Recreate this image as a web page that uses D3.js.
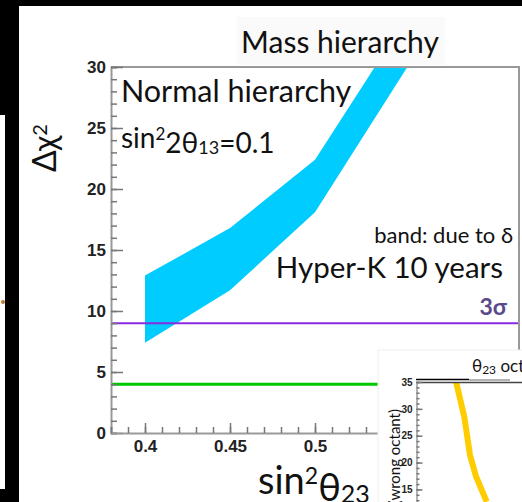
<!DOCTYPE html>
<html>
<head>
<meta charset="utf-8">
<script src="https://cdn.jsdelivr.net/npm/d3@7"></script>
<style>
  html, body { margin: 0; padding: 0; background: #fff; }
  svg { display: block; }
  .tick text { font-family: "Liberation Sans", Arial, sans-serif; font-weight: bold; fill: #222; }
  .lbl { font-family: Lato, "Open Sans", sans-serif; fill: #111; }
</style>
</head>
<body>
<svg id="chart" width="522" height="502"></svg>
<script>
// ---- data ----
const sin2Theta23 = [0.4, 0.45, 0.5, 0.6];
const bandUpper   = [12.9, 16.8, 22.4, 44];   // Δχ² upper edge of δ band
const bandLower   = [7.4, 11.7, 18.1, 40];    // Δχ² lower edge of δ band
const sigmaLevels = [
  { name: "3σ", value: 9, color: "#8a2be2", width: 2 },
  { name: "2σ", value: 4, color: "#00c800", width: 3 }
];
const xMajorTicks = [0.4, 0.45, 0.5];
const yMajorTicks = [0, 5, 10, 15, 20, 25, 30];

// inset: θ23 octant sensitivity
const octX   = [0.4257, 0.4352, 0.4417, 0.4486, 0.4608];
const octChi = [35.1, 28.5, 21.4, 17.4, 12.7];
const octYTicks = [15, 20, 25, 30, 35];

const svg = d3.select("#chart");

// ---- page frame around the figure ----
svg.append("rect").attr("x", 0).attr("y", 0).attr("width", 522).attr("height", 6).attr("fill", "#000");
svg.append("rect").attr("x", 0).attr("y", 0).attr("width", 19).attr("height", 502).attr("fill", "#000");
svg.append("rect").attr("x", 0).attr("y", 115).attr("width", 5).attr("height", 374).attr("fill", "#fff");
svg.append("circle").attr("cx", 3).attr("cy", 302).attr("r", 2).attr("fill", "#c07a30");

// ---- main panel ----
const x = d3.scaleLinear().domain([0.38, 0.62]).range([111, 519]);
const y = d3.scaleLinear().domain([0, 30]).range([433, 67]);

svg.append("defs").append("clipPath").attr("id", "plotClip")
  .append("rect").attr("x", x(0.38)).attr("y", y(30))
  .attr("width", x(0.62) - x(0.38)).attr("height", y(0) - y(30));

// title
svg.append("rect").attr("x", 237).attr("y", 17).attr("width", 208).attr("height", 48).attr("fill", "#fafafa");
svg.append("text").attr("class", "lbl").attr("x", 340).attr("y", 53)
  .attr("text-anchor", "middle").style("font-size", "30px").text("Mass hierarchy");

const plot = svg.append("g").attr("clip-path", "url(#plotClip)");

// δ band
const band = d3.area()
  .x((d, i) => x(sin2Theta23[i]))
  .y0((d, i) => y(bandLower[i]))
  .y1((d, i) => y(bandUpper[i]));
plot.append("path").datum(sin2Theta23).attr("d", band).attr("fill", "#00ccff");

// σ reference lines
plot.selectAll("line.sigma").data(sigmaLevels).join("line")
  .attr("class", "sigma")
  .attr("x1", x(0.38)).attr("x2", x(0.62))
  .attr("y1", d => y(d.value)).attr("y2", d => y(d.value))
  .attr("stroke", d => d.color).attr("stroke-width", d => d.width);

// frame (top and right)
svg.append("path")
  .attr("d", `M${x(0.38)},${y(30)}H${x(0.62)}V${y(0)}`)
  .attr("fill", "none").attr("stroke", "#999").attr("stroke-width", 2);

// axes with inward ticks
const yMinor = d3.axisLeft(y).tickValues(d3.range(0, 31, 1)).tickSize(-6).tickFormat("");
const yMajor = d3.axisLeft(y).tickValues(yMajorTicks).tickSize(-12).tickPadding(5).tickFormat(d3.format("d"));
const xMinor = d3.axisBottom(x).tickValues(d3.range(38, 63, 1).map(v => v / 100)).tickSize(-6).tickFormat("");
const xMajor = d3.axisBottom(x).tickValues(xMajorTicks).tickSize(-10).tickPadding(7).tickFormat(d => String(d));

function styleAxis(g, fs) {
  g.select(".domain").attr("stroke", "#999").attr("stroke-width", 2);
  g.selectAll(".tick line").attr("stroke", "#777").attr("stroke-width", 1.5);
  g.selectAll(".tick text").style("font-size", fs);
}
svg.append("g").attr("transform", `translate(${x(0.38)},0)`).call(yMinor).call(g => styleAxis(g, "17px"));
svg.append("g").attr("transform", `translate(${x(0.38)},0)`).call(yMajor).call(g => styleAxis(g, "17px"))
  .call(g => g.select(".domain").remove());
svg.append("g").attr("transform", `translate(0,${y(0)})`).call(xMinor).call(g => styleAxis(g, "17px"));
svg.append("g").attr("transform", `translate(0,${y(0)})`).call(xMajor).call(g => styleAxis(g, "17px"))
  .call(g => g.select(".domain").remove());

// axis titles
const yt = svg.append("text").attr("class", "lbl")
  .attr("transform", "translate(56,148) rotate(-90)")
  .attr("text-anchor", "middle").style("font-size", "32px");
yt.append("tspan").text("Δχ");
yt.append("tspan").attr("dy", "-0.45em").style("font-size", "20px").text("2");

const xt = svg.append("text").attr("class", "lbl").attr("x", 258).attr("y", 494).style("font-size", "38px");
xt.append("tspan").text("sin");
xt.append("tspan").attr("dy", "-0.45em").style("font-size", "23px").text("2");
xt.append("tspan").attr("dy", "0.45em").text("θ");
xt.append("tspan").attr("dy", "2").style("font-size", "25px").text("23");

// annotations
svg.append("text").attr("class", "lbl").attr("x", 121).attr("y", 102).style("font-size", "30.5px").text("Normal hierarchy");
const s13 = svg.append("text").attr("class", "lbl").attr("x", 121).attr("y", 148).style("font-size", "28px");
s13.append("tspan").text("sin");
s13.append("tspan").attr("dy", "-0.45em").style("font-size", "17px").text("2");
s13.append("tspan").attr("dy", "0.45em").text("2θ");
s13.append("tspan").attr("dy", "1").style("font-size", "18px").text("13");
s13.append("tspan").attr("dy", "-1").text("=0.1");

svg.append("text").attr("class", "lbl").attr("x", 513).attr("y", 243)
  .attr("text-anchor", "end").style("font-size", "22px").text("band: due to δ");
svg.append("text").attr("class", "lbl").attr("x", 503).attr("y", 278)
  .attr("text-anchor", "end").style("font-size", "29.5px").text("Hyper-K 10 years");
svg.append("text").attr("class", "lbl").attr("x", 507).attr("y", 315)
  .attr("text-anchor", "end").style("font-size", "23px").style("font-weight", "bold")
  .style("fill", "#5a4a8c").text(sigmaLevels[0].name);

// ---- inset panel: θ23 octant ----
svg.append("rect").attr("x", 378).attr("y", 350).attr("width", 150).attr("height", 160)
  .attr("fill", "#fff").attr("stroke", "#f0f0f0");

const ox = d3.scaleLinear().domain([0.38, 0.62]).range([416, 626]);
const oy = d3.scaleLinear().domain([0, 35]).range([570, 382]);

svg.select("defs").append("clipPath").attr("id", "octClip")
  .append("rect").attr("x", 416).attr("y", oy(35)).attr("width", 120).attr("height", 140);

const ot = svg.append("text").attr("class", "lbl").attr("x", 472).attr("y", 372).style("font-size", "17px");
ot.append("tspan").text("θ");
ot.append("tspan").attr("dy", "2").style("font-size", "12px").text("23");
ot.append("tspan").attr("dy", "-2").text(" octant");

svg.append("g").attr("clip-path", "url(#octClip)")
  .append("path").datum(octX)
  .attr("d", d3.line().x(d => ox(d)).y((d, i) => oy(octChi[i])))
  .attr("fill", "none").attr("stroke", "#ffcc00").attr("stroke-width", 6);

svg.append("line").attr("x1", 416).attr("x2", 469).attr("y1", 379.5).attr("y2", 379.5)
  .attr("stroke", "#000").attr("stroke-width", 1.5);
svg.append("line").attr("x1", 469).attr("x2", 510).attr("y1", 380).attr("y2", 380)
  .attr("stroke", "#999").attr("stroke-width", 1.5);
svg.append("line").attr("x1", 416).attr("x2", 522).attr("y1", 382.5).attr("y2", 382.5)
  .attr("stroke", "#444").attr("stroke-width", 1.5);

const oyMinor = d3.axisLeft(oy).tickValues(d3.range(12, 36, 1)).tickSize(-3).tickFormat("");
const oyMajor = d3.axisLeft(oy).tickValues(octYTicks).tickSize(-6).tickPadding(4).tickFormat(d3.format("d"));
svg.append("g").attr("transform", "translate(416.5,0)").call(oyMinor).call(g => styleAxis(g, "10px"))
  .call(g => g.select(".domain").attr("stroke-width", 1.5));
svg.append("g").attr("transform", "translate(416.5,0)").call(oyMajor).call(g => styleAxis(g, "10px"))
  .call(g => g.select(".domain").remove());

const oyt = svg.append("text").attr("class", "lbl")
  .attr("transform", "translate(398,409) rotate(-90)")
  .attr("text-anchor", "end").style("font-size", "15px");
oyt.append("tspan").text("Δχ");
oyt.append("tspan").attr("dy", "-0.4em").style("font-size", "10px").text("2");
oyt.append("tspan").attr("dy", "0.4em").text(" (wrong octant)");
</script>
</body>
</html>
